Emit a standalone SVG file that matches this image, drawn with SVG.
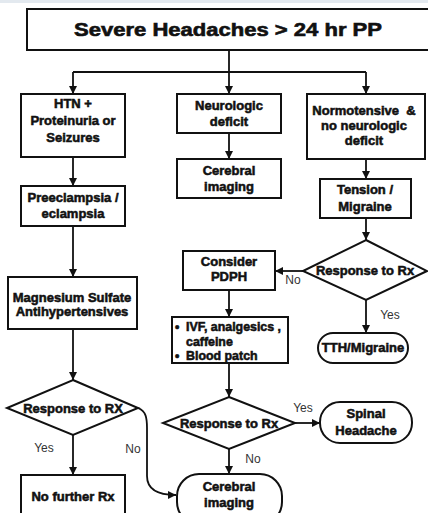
<svg xmlns="http://www.w3.org/2000/svg" width="428" height="513" viewBox="0 0 428 513">
<defs>
<style>
.box{fill:#fff;stroke:#111;stroke-width:2}
.ln{fill:none;stroke:#111;stroke-width:1.8}
.t{font-family:"Liberation Sans",Arial,sans-serif;font-weight:bold;font-size:13px;fill:#111;stroke:#111;stroke-width:0.55;text-anchor:middle;white-space:pre}
.tl{text-anchor:start;font-size:12.4px}
.lab{font-family:"Liberation Sans",Arial,sans-serif;font-size:12px;fill:#333;text-anchor:middle}
</style>
<marker id="ah" markerUnits="userSpaceOnUse" markerWidth="9" markerHeight="9" refX="8" refY="4" orient="auto">
<path d="M0,0 L8,4 L0,8 z" fill="#111"/>
</marker>
</defs>
<rect x="0" y="0" width="428" height="3" fill="#e3e9ef"/>

<g id="connectors">
<path class="ln" d="M229,50 V72"/>
<path class="ln" d="M73,72 H366"/>
<path class="ln" d="M73,72 V94" marker-end="url(#ah)"/>
<path class="ln" d="M229,72 V94" marker-end="url(#ah)"/>
<path class="ln" d="M366,72 V94" marker-end="url(#ah)"/>
<path class="ln" d="M73,157 V186" marker-end="url(#ah)"/>
<path class="ln" d="M73,226 V277" marker-end="url(#ah)"/>
<path class="ln" d="M73,329 V380" marker-end="url(#ah)"/>
<path class="ln" d="M73,435 V475" marker-end="url(#ah)"/>
<path class="ln" d="M138,408 C146,411 147,418 147,428 L147,476 C147,489 158,495 176,495" marker-end="url(#ah)"/>
<path class="ln" d="M229,133 V159" marker-end="url(#ah)"/>
<path class="ln" d="M366,159 V179" marker-end="url(#ah)"/>
<path class="ln" d="M366,218 V240" marker-end="url(#ah)"/>
<path class="ln" d="M303,271 H275" marker-end="url(#ah)"/>
<path class="ln" d="M366,300 V333" marker-end="url(#ah)"/>
<path class="ln" d="M229,290 V317" marker-end="url(#ah)"/>
<path class="ln" d="M229,363 V397" marker-end="url(#ah)"/>
<path class="ln" d="M295,423 H320" marker-end="url(#ah)"/>
<path class="ln" d="M229,449 V474" marker-end="url(#ah)"/>
<text class="lab" x="293" y="284">No</text>
<text class="lab" x="390" y="319">Yes</text>
<text class="lab" x="44" y="452">Yes</text>
<text class="lab" x="133" y="453">No</text>
<text class="lab" x="303" y="412">Yes</text>
<text class="lab" x="253" y="463">No</text>
</g>

<g id="title">
<rect class="box" x="27" y="9" width="410" height="41"/>
<text class="t" x="228" y="36" style="font-size:18px;stroke-width:0.6" textLength="308" lengthAdjust="spacingAndGlyphs">Severe Headaches &gt; 24 hr PP</text>
</g>

<g id="htn">
<rect class="box" x="21" y="94" width="104" height="63"/>
<text class="t" x="73" y="108">HTN +</text>
<text class="t" x="73" y="125">Proteinuria or</text>
<text class="t" x="73" y="142">Seizures</text>
</g>

<g id="preeclampsia">
<rect class="box" x="21" y="186" width="104" height="40"/>
<text class="t" x="73" y="202">Preeclampsia /</text>
<text class="t" x="73" y="218">eclampsia</text>
</g>

<g id="magnesium">
<rect class="box" x="8" y="277" width="129" height="52"/>
<text class="t" x="72" y="302">Magnesium Sulfate</text>
<text class="t" x="72" y="316">Antihypertensives</text>
</g>

<g id="response-left">
<path class="box" d="M73,380 L138,408 L73,435 L7,408 Z"/>
<text class="t" x="73" y="413">Response to RX</text>
</g>

<g id="no-further">
<rect class="box" x="21" y="475" width="104" height="45"/>
<text class="t" x="73" y="501">No further Rx</text>
</g>

<g id="neuro">
<rect class="box" x="177" y="94" width="104" height="39"/>
<text class="t" x="229" y="110">Neurologic</text>
<text class="t" x="229" y="126">deficit</text>
</g>

<g id="cerebral-top">
<rect class="box" x="177" y="159" width="104" height="39"/>
<text class="t" x="229" y="175">Cerebral</text>
<text class="t" x="229" y="191">imaging</text>
</g>

<g id="normotensive">
<rect class="box" x="307" y="94" width="118" height="65"/>
<text class="t" x="364" y="115">Normotensive  &amp;</text>
<text class="t" x="364" y="130">no neurologic</text>
<text class="t" x="364" y="145">deficit</text>
</g>

<g id="tension">
<rect class="box" x="320" y="179" width="91" height="39"/>
<text class="t" x="365" y="194">Tension /</text>
<text class="t" x="365" y="211">Migraine</text>
</g>

<g id="response-right">
<path class="box" d="M366,240 L427,271 L366,300 L303,271 Z"/>
<text class="t" x="365" y="275">Response to Rx</text>
</g>

<g id="pdph">
<rect class="box" x="183" y="251" width="92" height="39"/>
<text class="t" x="229" y="266">Consider</text>
<text class="t" x="229" y="281">PDPH</text>
</g>

<g id="tth">
<rect class="box" x="318" y="333" width="90" height="30" rx="15" ry="15"/>
<text class="t" x="363" y="352">TTH/Migraine</text>
</g>

<g id="ivf">
<rect class="box" x="172" y="317" width="116" height="46"/>
<text class="t tl" x="175" y="331">•</text>
<text class="t tl" x="186" y="331">IVF, analgesics ,</text>
<text class="t tl" x="186" y="345.5">caffeine</text>
<text class="t tl" x="175" y="360">•</text>
<text class="t tl" x="186" y="360">Blood patch</text>
</g>

<g id="response-mid">
<path class="box" d="M229,397 L295,423 L229,449 L163,423 Z"/>
<text class="t" x="229" y="428">Response to Rx</text>
</g>

<g id="spinal">
<rect class="box" x="320" y="402" width="92" height="41" rx="20" ry="20"/>
<text class="t" x="366" y="418">Spinal</text>
<text class="t" x="366" y="435">Headache</text>
</g>

<g id="cerebral-bottom">
<rect class="box" x="177" y="474" width="105" height="50" rx="22" ry="22"/>
<text class="t" x="229" y="491">Cerebral</text>
<text class="t" x="229" y="507">imaging</text>
</g>
</svg>
